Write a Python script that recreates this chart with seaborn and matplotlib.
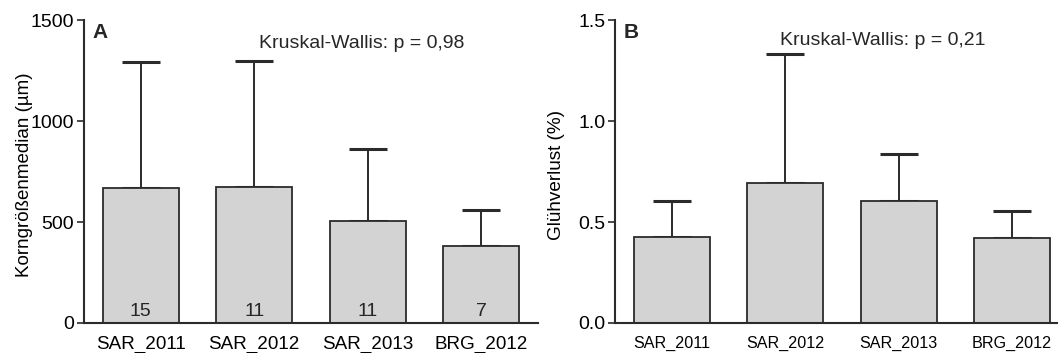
import numpy as np
import pandas as pd
import matplotlib
matplotlib.use("Agg")
import matplotlib.pyplot as plt
import seaborn as sns

# Data
groups = ["SAR_2011", "SAR_2012", "SAR_2013", "BRG_2012"]
n_samples = [15, 11, 11, 7]

grain_mean = [668, 675, 506, 383]
grain_sd = [626, 624, 355, 176]

loi_mean = [0.426, 0.693, 0.602, 0.419]
loi_sd = [0.178, 0.640, 0.235, 0.137]

sns.set_theme(style="ticks")
plt.rcParams['font.family'] = ['Liberation Sans', 'DejaVu Sans']

edge = "#2b2b2b"
fill = "#d3d3d3"

fig = plt.figure(figsize=(10.58, 3.53), dpi=100)
axA = fig.add_axes([0.0794, 0.085, 0.429, 0.858])
axB = fig.add_axes([0.5813, 0.085, 0.429, 0.858])


def draw_panel(ax, means, sds, ylim, yticks, ylabel, letter, ptext, pxy, xfs, ylfs, ylx):
    df = pd.DataFrame({"group": groups, "value": means})
    ax.errorbar(range(len(groups)), means, yerr=[np.zeros(len(sds)), sds],
                fmt="none", ecolor=edge, elinewidth=1.4, capsize=13.5,
                capthick=2.2, zorder=1)
    sns.barplot(data=df, x="group", y="value", order=groups, color=fill,
                saturation=1, width=0.67, edgecolor=edge, linewidth=1.3,
                errorbar=None, ax=ax, zorder=2)
    ax.set_xlim(-0.5, 3.5)
    ax.set_ylim(*ylim)
    ax.set_yticks(yticks)
    ax.set_xlabel("")
    ax.set_ylabel(ylabel, fontsize=ylfs, color="black")
    ax.yaxis.set_label_coords(ylx, 0.49)
    ax.tick_params(axis="x", length=0, pad=9, labelsize=xfs, colors="black")
    ax.tick_params(axis="y", length=5, width=1.2, pad=2, labelsize=14,
                   color=edge, labelcolor="black")
    for s in ["top", "right"]:
        ax.spines[s].set_visible(False)
    for s in ["left", "bottom"]:
        ax.spines[s].set_color(edge)
        ax.spines[s].set_linewidth(1.5)
    ax.text(0.018, 0.99, letter, transform=ax.transAxes, fontsize=15,
            fontweight="bold", ha="left", va="top")
    ax.text(pxy[0], pxy[1], ptext, transform=ax.transAxes, fontsize=14,
            ha="center", va="center")


draw_panel(axA, grain_mean, grain_sd, (0, 1500), [0, 500, 1000, 1500],
           "Korngrößenmedian (µm)", "A", "Kruskal-Wallis: p = 0,98",
           (0.611, 0.924), 13.6, 13.5, -0.112)
draw_panel(axB, loi_mean, loi_sd, (0, 1.5), [0.0, 0.5, 1.0, 1.5],
           "Glühverlust (%)", "B", "Kruskal-Wallis: p = 0,21",
           (0.589, 0.934), 11.6, 13.6, -0.110)
axB.set_yticklabels(["0.0", "0.5", "1.0", "1.5"])

for i, n in enumerate(n_samples):
    axA.annotate(str(n), (i, 0), xytext=(0, 2), textcoords="offset points",
                 ha="center", va="bottom", fontsize=14)

fig.savefig("out.png", dpi=100)
